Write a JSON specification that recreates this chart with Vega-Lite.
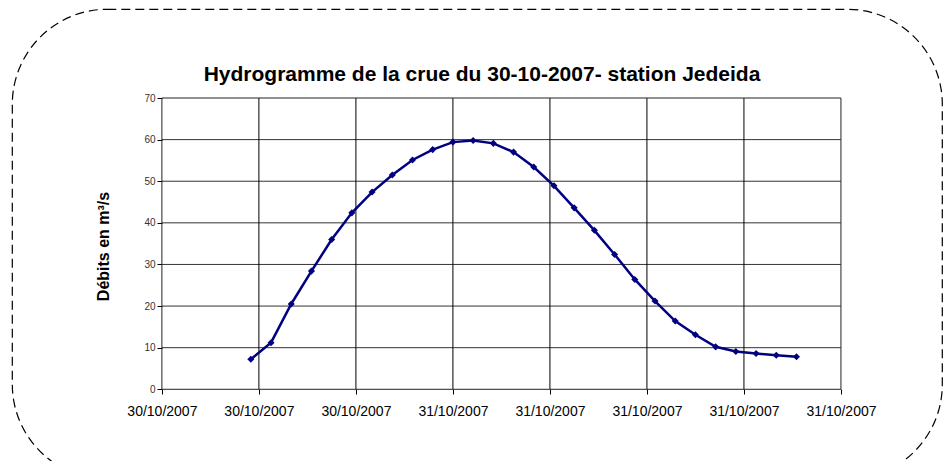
{
  "$schema": "https://vega.github.io/schema/vega-lite/v6.json",
  "width": 930,
  "height": 470,
  "autosize": "none",
  "padding": {"left": 12, "top": 9, "right": 3, "bottom": -18},
  "background": "white",
  "title": {
    "text": "Hydrogramme de la crue du 30-10-2007- station Jedeida",
    "font": "Liberation Sans",
    "fontSize": 21,
    "fontWeight": "bold",
    "color": "#000",
    "anchor": "middle",
    "frame": "group",
    "offset": -76,
    "dx": 5
  },
  "datasets": {
    "flow": [
      {"t": "2007-10-30T14:00:00Z", "q": 7.2},
      {"t": "2007-10-30T15:00:00Z", "q": 11.2},
      {"t": "2007-10-30T16:00:00Z", "q": 20.5},
      {"t": "2007-10-30T17:00:00Z", "q": 28.4},
      {"t": "2007-10-30T18:00:00Z", "q": 36.0},
      {"t": "2007-10-30T19:00:00Z", "q": 42.4},
      {"t": "2007-10-30T20:00:00Z", "q": 47.4},
      {"t": "2007-10-30T21:00:00Z", "q": 51.5},
      {"t": "2007-10-30T22:00:00Z", "q": 55.1},
      {"t": "2007-10-30T23:00:00Z", "q": 57.6},
      {"t": "2007-10-31T00:00:00Z", "q": 59.4},
      {"t": "2007-10-31T01:00:00Z", "q": 59.8},
      {"t": "2007-10-31T02:00:00Z", "q": 59.1},
      {"t": "2007-10-31T03:00:00Z", "q": 57.0},
      {"t": "2007-10-31T04:00:00Z", "q": 53.4},
      {"t": "2007-10-31T05:00:00Z", "q": 48.9},
      {"t": "2007-10-31T06:00:00Z", "q": 43.6},
      {"t": "2007-10-31T07:00:00Z", "q": 38.2},
      {"t": "2007-10-31T08:00:00Z", "q": 32.4},
      {"t": "2007-10-31T09:00:00Z", "q": 26.4},
      {"t": "2007-10-31T10:00:00Z", "q": 21.2},
      {"t": "2007-10-31T11:00:00Z", "q": 16.4},
      {"t": "2007-10-31T12:00:00Z", "q": 13.1},
      {"t": "2007-10-31T13:00:00Z", "q": 10.2},
      {"t": "2007-10-31T14:00:00Z", "q": 9.1},
      {"t": "2007-10-31T15:00:00Z", "q": 8.6},
      {"t": "2007-10-31T16:00:00Z", "q": 8.2},
      {"t": "2007-10-31T17:00:00Z", "q": 7.8}
    ],
    "hgrid": [{"v": 10}, {"v": 20}, {"v": 30}, {"v": 40}, {"v": 50}, {"v": 60}],
    "vgrid": [
      {"t": "2007-10-30T14:24:00Z"},
      {"t": "2007-10-30T19:12:00Z"},
      {"t": "2007-10-31T00:00:00Z"},
      {"t": "2007-10-31T04:48:00Z"},
      {"t": "2007-10-31T09:36:00Z"},
      {"t": "2007-10-31T14:24:00Z"}
    ],
    "frame": [{"t0": "2007-10-30T09:36:00Z", "t1": "2007-10-31T19:12:00Z", "y0": 0, "y1": 70}]
  },
  "config": {
    "view": {"stroke": "#000", "strokeWidth": 1.2, "strokeDash": [9, 5], "cornerRadius": 95, "fill": "white"},
    "font": "Liberation Sans",
    "axisY": {
      "titleFont": "Liberation Sans",
      "titleFontSize": 16,
      "titleFontWeight": "bold",
      "titleColor": "#000",
      "titlePadding": 32,
      "labelFontSize": 10,
      "labelColor": "#333",
      "labelPadding": 2
    },
    "axisX": {
      "labelFontSize": 14,
      "labelColor": "#000",
      "labelPadding": 10
    }
  },
  "resolve": {"scale": {"x": "shared", "y": "shared"}},
  "layer": [
    {
      "data": {"name": "hgrid"},
      "mark": {"type": "rule", "color": "#333", "strokeWidth": 1},
      "encoding": {
        "y": {"field": "v", "type": "quantitative"},
        "x": {"datum": {"year": 2007, "month": 10, "date": 30, "hours": 9, "minutes": 36, "utc": true}, "type": "temporal"},
        "x2": {"datum": {"year": 2007, "month": 10, "date": 31, "hours": 19, "minutes": 12, "utc": true}}
      }
    },
    {
      "data": {"name": "vgrid"},
      "mark": {"type": "rule", "color": "#000", "strokeWidth": 1},
      "encoding": {
        "x": {"field": "t", "type": "temporal"},
        "y": {"datum": 0, "type": "quantitative"},
        "y2": {"datum": 70}
      }
    },
    {
      "data": {"name": "frame"},
      "mark": {"type": "rect", "fill": null, "fillOpacity": 0, "stroke": "#222", "strokeWidth": 1},
      "encoding": {
        "x": {"field": "t0", "type": "temporal"},
        "x2": {"field": "t1"},
        "y": {"field": "y0", "type": "quantitative"},
        "y2": {"field": "y1"}
      }
    },
    {
      "data": {"name": "flow"},
      "mark": {
        "type": "line",
        "color": "#000080",
        "strokeWidth": 2.5,
        "point": {"shape": "diamond", "filled": true, "size": 50, "color": "#000080"}
      },
      "encoding": {
        "x": {
          "field": "t",
          "type": "temporal",
          "scale": {
            "type": "utc",
            "domain": [
              {"year": 2007, "month": 10, "date": 30, "hours": 2, "minutes": 11, "utc": true},
              {"year": 2007, "month": 11, "date": 1, "hours": 0, "minutes": 12, "utc": true}
            ],
            "nice": false
          },
          "axis": {
            "title": null,
            "orient": "bottom",
            "offset": -90,
            "domain": false,
            "grid": false,
            "values": [
              {"year": 2007, "month": 10, "date": 30, "hours": 9, "minutes": 36, "utc": true},
              {"year": 2007, "month": 10, "date": 30, "hours": 14, "minutes": 24, "utc": true},
              {"year": 2007, "month": 10, "date": 30, "hours": 19, "minutes": 12, "utc": true},
              {"year": 2007, "month": 10, "date": 31, "hours": 0, "minutes": 0, "utc": true},
              {"year": 2007, "month": 10, "date": 31, "hours": 4, "minutes": 48, "utc": true},
              {"year": 2007, "month": 10, "date": 31, "hours": 9, "minutes": 36, "utc": true},
              {"year": 2007, "month": 10, "date": 31, "hours": 14, "minutes": 24, "utc": true},
              {"year": 2007, "month": 10, "date": 31, "hours": 19, "minutes": 12, "utc": true}
            ],
            "format": "%d/%m/%Y",
            "labelFontSize": 14,
            "labelColor": "#000",
            "labelFont": "Liberation Sans",
            "labelPadding": 10,
            "labelFlush": false,
            "labelOverlap": false,
            "tickSize": 5,
            "tickColor": "#000",
            "tickWidth": 1
          }
        },
        "y": {
          "field": "q",
          "type": "quantitative",
          "scale": {"domain": [-21.56, 91.39], "nice": false, "zero": false},
          "axis": {
            "title": "Débits en m³/s",
            "titleFont": "Liberation Sans",
            "titleFontSize": 16,
            "titleFontWeight": "bold",
            "titleColor": "#000",
            "titlePadding": 32,
            "titleY": 237,
            "orient": "left",
            "offset": -150,
            "domain": false,
            "grid": false,
            "values": [0, 10, 20, 30, 40, 50, 60, 70],
            "labelFontSize": 10,
            "labelColor": "#333",
            "labelFont": "Liberation Sans",
            "labelPadding": 2,
            "tickSize": 5,
            "tickColor": "#000",
            "tickWidth": 1
          }
        }
      }
    }
  ]
}
